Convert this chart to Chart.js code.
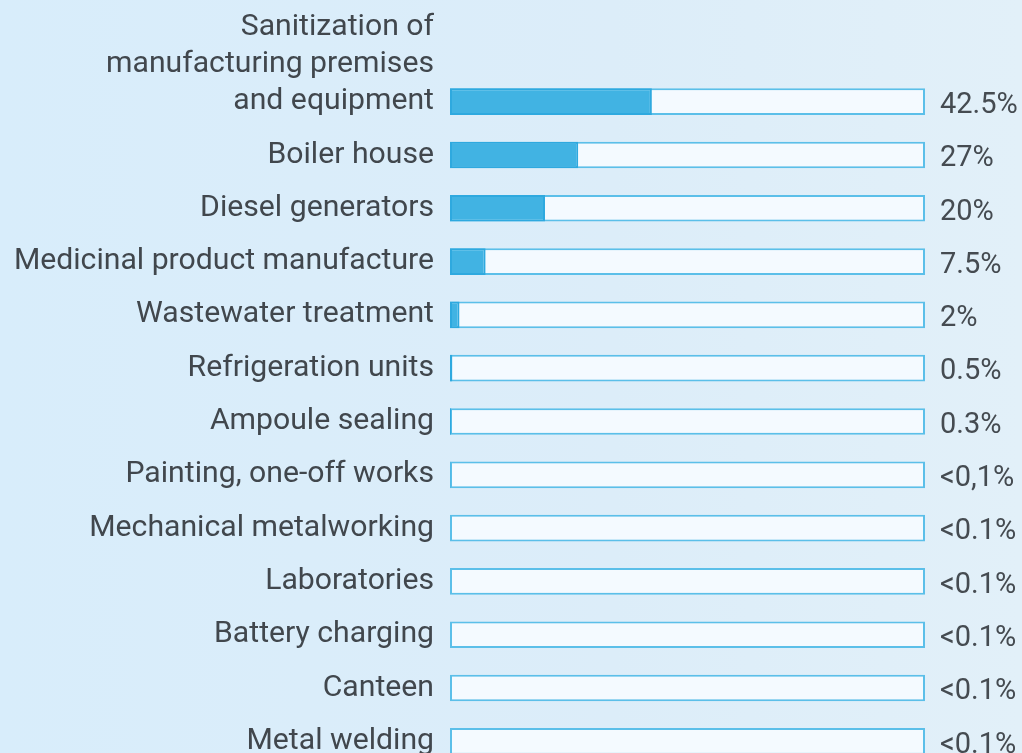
<!DOCTYPE html>
<html>
<head>
<meta charset="utf-8">
<script src="https://cdn.jsdelivr.net/npm/chart.js@4"></script>
<style>
  html, body { margin: 0; padding: 0; overflow: hidden; }
  body {
    width: 1022px; height: 753px;
    background: linear-gradient(90deg, #d8edfb 0%, #dcedf9 60%, #e2f0f9 100%);
    font-family: Roboto, sans-serif;
  }
  .caja { position: relative; width: 1022px; height: 800px; }
</style>
</head>
<body>
<div class="caja">
  <canvas id="graficoFuentes"></canvas>
</div>
<script>
// categorias (la primera va en varias lineas)
const categorias = [
  ['Sanitization of', 'manufacturing premises', 'and equipment'],
  'Boiler house',
  'Diesel generators',
  'Medicinal product manufacture',
  'Wastewater treatment',
  'Refrigeration units',
  'Ampoule sealing',
  'Painting, one-off works',
  'Mechanical metalworking',
  'Laboratories',
  'Battery charging',
  'Canteen',
  'Metal welding'
];

// porcentaje de cada fuente
const valores = [42.5, 27, 20, 7.5, 2, 0.5, 0.3, 0.1, 0, 0, 0, 0, 0];

// texto que se muestra a la derecha de cada barra
const etiquetasValor = ['42.5%', '27%', '20%', '7.5%', '2%', '0.5%', '0.3%',
  '<0,1%', '<0.1%', '<0.1%', '<0.1%', '<0.1%', '<0.1%'];

// fondo de cada barra (100%)
const fondo = categorias.map(() => 100);

// las etiquetas de varias lineas se rellenan con lineas vacias para que
// la ultima linea quede centrada con la barra
const etiquetasEje = categorias.map(c => {
  if (!Array.isArray(c)) return c;
  let lineas = c.slice();
  for (let i = 1; i < c.length; i++) lineas.push('');
  return lineas;
});

// dibuja el porcentaje al final de cada barra
const textoValores = {
  id: 'textoValores',
  afterDatasetsDraw(chart) {
    const ctx = chart.ctx;
    const x = chart.scales.x;
    const y = chart.scales.y;
    ctx.save();
    ctx.font = '29px Roboto';
    ctx.fillStyle = '#454b51';
    ctx.textAlign = 'left';
    ctx.textBaseline = 'middle';
    etiquetasValor.forEach((t, i) => {
      ctx.fillText(t, x.getPixelForValue(100) + 15, y.getPixelForValue(i) + 4);
    });
    ctx.restore();
  }
};

new Chart('graficoFuentes', {
  type: 'bar',
  data: {
    labels: etiquetasEje,
    datasets: [
      {
        data: valores,
        backgroundColor: '#41b3e3',
        borderColor: '#2ea9df',
        borderWidth: 2,
        borderSkipped: false,
        grouped: false,
        categoryPercentage: 1,
        barPercentage: 0.5
      },
      {
        data: fondo,
        backgroundColor: '#f4faff',
        borderColor: '#5bbfe9',
        borderWidth: 2,
        borderSkipped: false,
        grouped: false,
        categoryPercentage: 1,
        barPercentage: 0.5
      }
    ]
  },
  options: {
    indexAxis: 'y',
    responsive: true,
    maintainAspectRatio: false,
    animation: false,
    layout: { padding: { top: 75, bottom: 32, left: 0, right: 97 } },
    plugins: {
      legend: { display: false },
      tooltip: { enabled: false }
    },
    scales: {
      x: {
        display: false,
        min: 0,
        max: 100
      },
      y: {
        grid: { display: false, drawTicks: false },
        border: { display: false },
        ticks: {
          autoSkip: false,
          padding: 16,
          color: '#41474d',
          font: { family: 'Roboto', size: 30.2, lineHeight: 1.233 }
        },
        afterFit(scale) {
          scale.width = 450;
          scale.paddingTop = 0;
          scale.paddingBottom = 0;
        }
      }
    }
  },
  plugins: [textoValores]
});
</script>
</body>
</html>
